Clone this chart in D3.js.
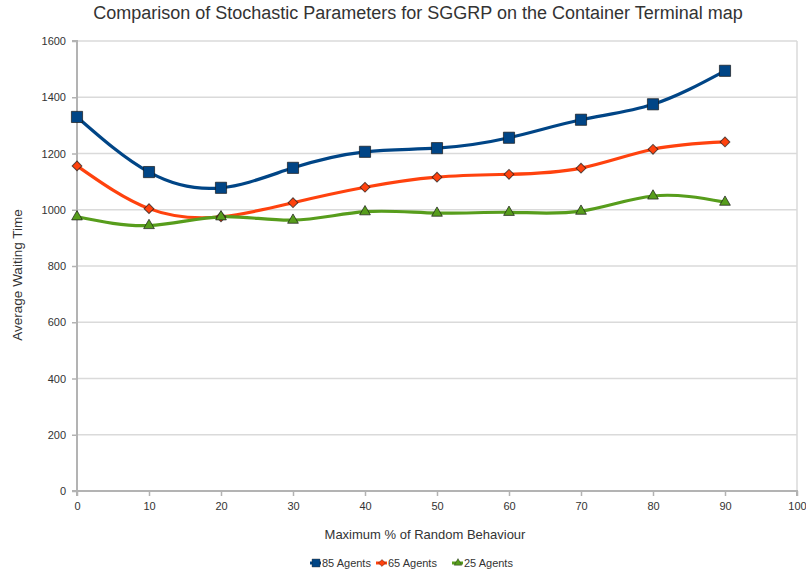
<!DOCTYPE html>
<html>
<head>
<meta charset="utf-8">
<script src="https://cdn.jsdelivr.net/npm/d3@7/dist/d3.min.js"></script>
<style>
  html, body { margin: 0; padding: 0; background: #fff; }
  svg { display: block; font-family: "Liberation Sans", Arial, sans-serif; }
</style>
</head>
<body>
<svg id="chart" width="806" height="572"></svg>
<script>
// Maximum % of random behaviour
const randomPct = [0, 10, 20, 30, 40, 50, 60, 70, 80, 90];
// Average waiting time per agent count
const agents85 = [1330, 1134, 1078, 1149, 1206, 1219, 1256, 1320, 1375, 1494];
const agents65 = [1156, 1004, 975, 1025, 1080, 1116, 1126, 1148, 1215, 1241];
const agents25 = [975, 944, 975, 963, 993, 988, 991, 995, 1049, 1027];
const seriesNames = ["85 Agents", "65 Agents", "25 Agents"];
const xTicks = [0, 10, 20, 30, 40, 50, 60, 70, 80, 90, 100];
const yTicks = [0, 200, 400, 600, 800, 1000, 1200, 1400, 1600];

const series = [
  { name: seriesNames[0], values: agents85, color: "#004586", symbol: d3.symbolSquare, size: 125, rotate: 0 },
  { name: seriesNames[1], values: agents65, color: "#ff420e", symbol: d3.symbolSquare, size: 48, rotate: 45 },
  { name: seriesNames[2], values: agents25, color: "#579d1c", symbol: d3.symbolTriangle, size: 50, rotate: 0 }
];

const svg = d3.select("#chart");
const m = { left: 77, right: 797, top: 41, bottom: 491 };

const x = d3.scaleLinear().domain([0, 100]).range([m.left, m.right]);
const y = d3.scaleLinear().domain([0, 1600]).range([m.bottom, m.top]);

const textColor = "#333";
const axisColor = "#b3b3b3";
const gridColor = "#dadada";

// Horizontal grid lines
svg.append("g")
  .selectAll("line")
  .data(yTicks.filter(d => d > 0))
  .join("line")
  .attr("x1", m.left).attr("x2", m.right)
  .attr("y1", d => y(d)).attr("y2", d => y(d))
  .attr("stroke", gridColor).attr("stroke-width", 1.5);

// Right border of plot area
svg.append("line")
  .attr("x1", m.right).attr("x2", m.right)
  .attr("y1", m.top).attr("y2", m.bottom)
  .attr("stroke", gridColor).attr("stroke-width", 1.5);

// Axes
const xAxis = svg.append("g")
  .attr("transform", `translate(0,${m.bottom})`)
  .call(d3.axisBottom(x).tickValues(xTicks).tickFormat(d3.format("d")).tickSize(5).tickPadding(6));
const yAxis = svg.append("g")
  .attr("transform", `translate(${m.left},0)`)
  .call(d3.axisLeft(y).tickValues(yTicks).tickFormat(d3.format("d")).tickSize(5).tickPadding(6));

[xAxis, yAxis].forEach(g => {
  g.select(".domain").attr("stroke", axisColor).attr("stroke-width", 2);
  g.selectAll(".tick line").attr("stroke", axisColor).attr("stroke-width", 1.5);
  g.selectAll(".tick text")
    .attr("fill", textColor)
    .attr("font-size", 11)
    .attr("font-family", "Liberation Sans, Arial, sans-serif");
});
xAxis.select(".domain").attr("d", `M${m.left},5V0H${m.right}V5`);
yAxis.select(".domain").attr("d", `M-5,${m.top}H0V${m.bottom}H-5`);

// Title
svg.append("text")
  .attr("x", 418).attr("y", 19)
  .attr("text-anchor", "middle")
  .attr("font-size", 18)
  .attr("fill", textColor)
  .text("Comparison of Stochastic Parameters for SGGRP on the Container Terminal map");

// Axis titles
svg.append("text")
  .attr("x", 425).attr("y", 539)
  .attr("text-anchor", "middle")
  .attr("font-size", 13)
  .attr("fill", textColor)
  .text("Maximum % of Random Behaviour");

svg.append("text")
  .attr("transform", `translate(22,275) rotate(-90)`)
  .attr("text-anchor", "middle")
  .attr("font-size", 13.5)
  .attr("fill", textColor)
  .text("Average Waiting Time");

// Lines and markers
const line = d3.line()
  .x((d, i) => x(randomPct[i]))
  .y(d => y(d))
  .curve(d3.curveNatural);

series.forEach(s => {
  svg.append("path")
    .datum(s.values)
    .attr("d", line)
    .attr("fill", "none")
    .attr("stroke", s.color)
    .attr("stroke-width", 3.2);
});

series.forEach(s => {
  svg.append("g")
    .selectAll("path")
    .data(s.values)
    .join("path")
    .attr("transform", (d, i) => `translate(${x(randomPct[i])},${y(d)}) rotate(${s.rotate})`)
    .attr("d", d3.symbol().type(s.symbol).size(s.size))
    .attr("fill", s.color)
    .attr("stroke", "#1a1a1a")
    .attr("stroke-opacity", 0.7)
    .attr("stroke-width", 1);
});

// Legend
const legendTextX = [322, 388, 464];
const legend = svg.append("g");
series.forEach((s, i) => {
  const g = legend.append("g").attr("transform", `translate(${legendTextX[i]},563)`);
  g.append("line")
    .attr("x1", -12).attr("x2", -1)
    .attr("stroke", s.color).attr("stroke-width", 3);
  g.append("path")
    .attr("transform", `translate(-6,0) rotate(${s.rotate})`)
    .attr("d", d3.symbol().type(s.symbol).size(s.size * 0.5))
    .attr("fill", s.color)
    .attr("stroke", "#1a1a1a").attr("stroke-opacity", 0.5).attr("stroke-width", 0.8);
  g.append("text")
    .attr("x", 0).attr("y", 4)
    .attr("font-size", 11)
    .attr("fill", textColor)
    .text(s.name);
});
</script>
</body>
</html>
